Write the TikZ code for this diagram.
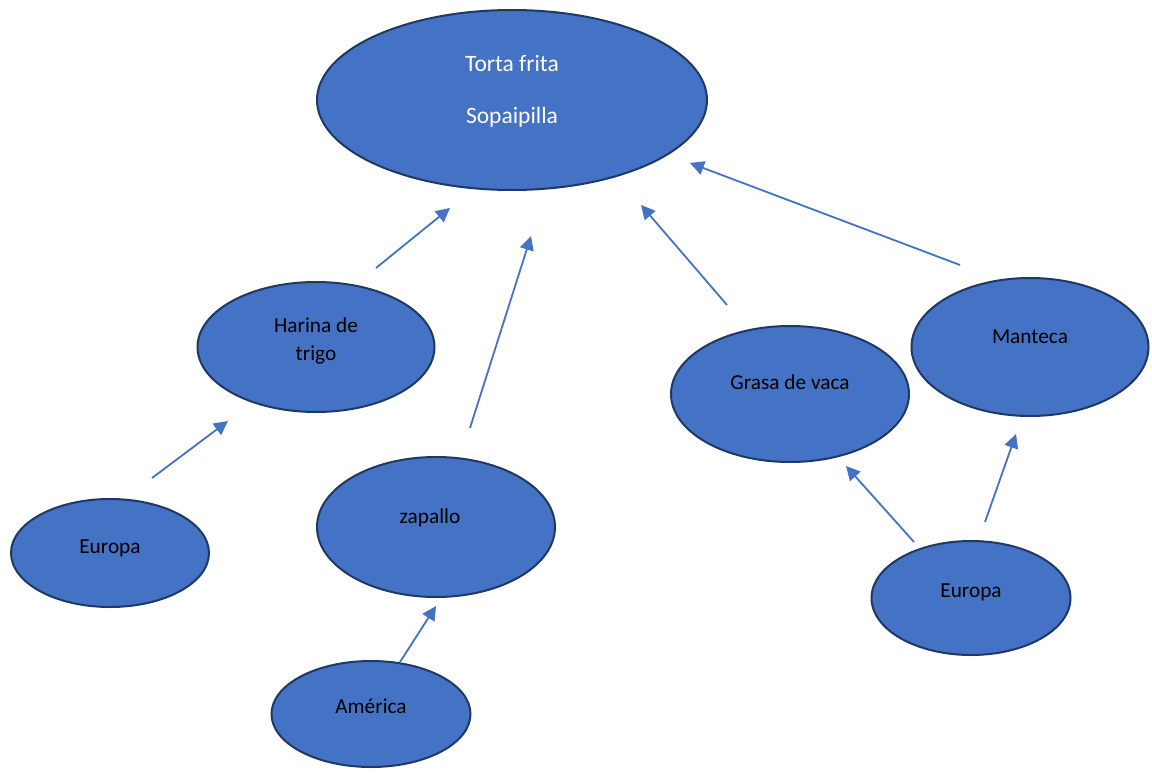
\documentclass[tikz,border=0pt]{standalone}
\usepackage{fontspec}
\setmainfont{Carlito}
\usetikzlibrary{arrows.meta,shapes.geometric}
\definecolor{fillblue}{HTML}{4472C4}
\definecolor{edgeblue}{HTML}{1F3864}
\definecolor{arrowblue}{HTML}{4472C4}
\tikzset{
  bubble/.style={ellipse, draw=edgeblue, line width=2pt, fill=fillblue, inner sep=0pt},
  txt/.style={font=\fontsize{21.3}{28.5}\selectfont, text=black, inner sep=0pt, align=center},
  toptxt/.style={font=\fontsize{23.5}{28}\selectfont, text=white, inner sep=0pt},
  link/.style={draw=arrowblue, line width=1.8pt, -{Triangle[length=14pt,width=14pt]}}
}
\begin{document}
\begin{tikzpicture}[x=1pt,y=-1pt]
\path[use as bounding box] (0,0) rectangle (1152,776);
% ellipses
\node[bubble, minimum width=390pt, minimum height=180pt] (top) at (512,100) {};
\node[bubble, minimum width=237pt, minimum height=130pt] (harina) at (316,347) {};
\node[bubble, minimum width=198pt, minimum height=108pt] (europa1) at (110,553) {};
\node[bubble, minimum width=238pt, minimum height=140pt] (zapallo) at (436,527) {};
\node[bubble, minimum width=199pt, minimum height=106pt] (america) at (371,714) {};
\node[bubble, minimum width=238pt, minimum height=136pt] (grasa) at (790,394) {};
\node[bubble, minimum width=237pt, minimum height=138pt] (manteca) at (1030,347) {};
\node[bubble, minimum width=199pt, minimum height=114pt] (europa2) at (971,598) {};
% texts
\node[toptxt] (t1) at (512,64) {Torta frita};
\node[toptxt] (t2) at (512,117) {Sopaipilla};
\node[txt] (th) at (316,341) {Harina de\\trigo};
\node[txt] (te1) at (110,548) {Europa};
\node[txt] (tz) at (430,518) {zapallo};
\node[txt] (ta) at (371,706) {América};
\node[txt] (tg) at (790,382) {Grasa de vaca};
\node[txt] (tm) at (1030,337) {Manteca};
\node[txt] (te2) at (971,592) {Europa};
% arrow end points
\coordinate (a1s) at (376,268); \coordinate (a1e) at (450,208);
\coordinate (a2s) at (470,428); \coordinate (a2e) at (531,236);
\coordinate (a3s) at (727,305); \coordinate (a3e) at (641,205);
\coordinate (a4s) at (960,265); \coordinate (a4e) at (690,163);
\coordinate (a5s) at (152,478); \coordinate (a5e) at (228,421);
\coordinate (a6s) at (400,662); \coordinate (a6e) at (436,606);
\coordinate (a7s) at (914,542); \coordinate (a7e) at (846,466);
\coordinate (a8s) at (985,522); \coordinate (a8e) at (1016,434);
\draw[link] (a1s) -- (a1e);
\draw[link] (a2s) -- (a2e);
\draw[link] (a3s) -- (a3e);
\draw[link] (a4s) -- (a4e);
\draw[link] (a5s) -- (a5e);
\draw[link] (a6s) -- (a6e);
\draw[link] (a7s) -- (a7e);
\draw[link] (a8s) -- (a8e);
\end{tikzpicture}
\end{document}
